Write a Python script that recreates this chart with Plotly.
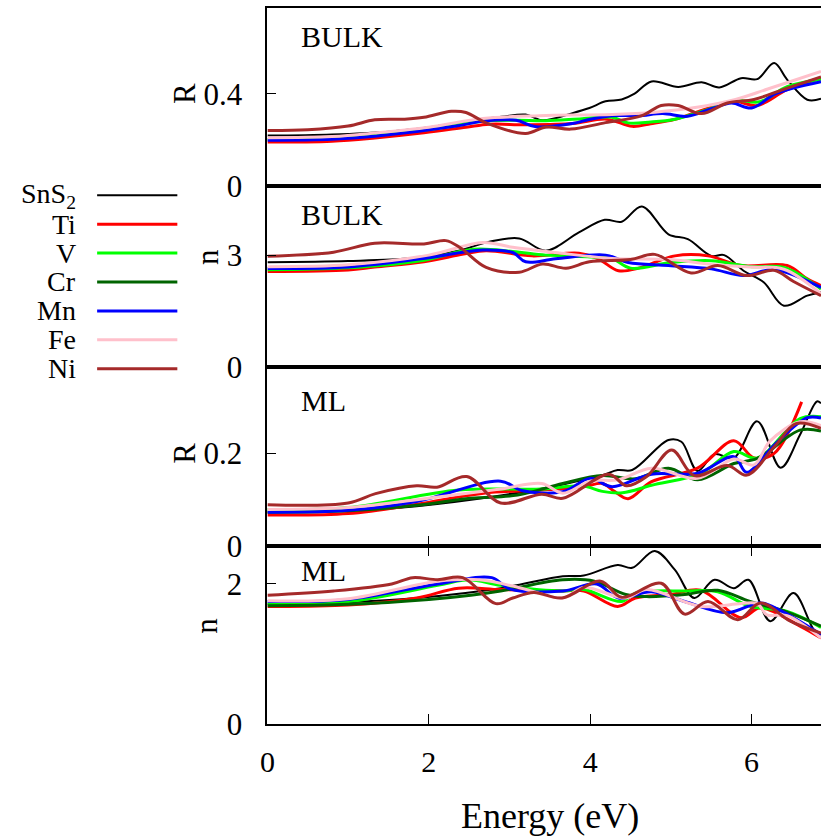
import plotly.graph_objects as go

SERIES = ["SnS<sub>2</sub>", "Ti", "V", "Cr", "Mn", "Fe", "Ni"]
COLORS = ["#000000", "#ff0000", "#00ff00", "#006400", "#0000ff", "#ffc0cb", "#a52a2a"]
WIDTHS = [2, 3, 3, 3, 3, 3, 3]

PANEL_LABELS = ["BULK", "BULK", "ML", "ML"]
Y_TITLES = ["R", "n", "R", "n"]
Y_TICKS = [[0, 0.4], [0, 3], [0, 0.2], [0, 2]]
Y_TICKTEXT = [["0", "0.4"], ["0", "3"], ["0", "0.2"], ["0", "2"]]
Y_RANGES = [[0, 0.77], [0, 4.85], [0, 0.387], [0, 2.54]]
X_TICKS = [0, 2, 4, 6]
X_RANGE = [0, 6.86]

# ---------------- BULK reflectivity R ----------------
bR_SnS2_E = [0, 0.8, 1.5, 2.0, 2.55, 2.9, 3.2, 3.41, 3.78, 3.99, 4.19, 4.39, 4.55, 4.76, 5.09, 5.38, 5.6, 5.87, 6.07, 6.28, 6.44, 6.69, 6.86]
bR_SnS2 = [0.219, 0.224, 0.236, 0.255, 0.285, 0.30, 0.31, 0.285, 0.316, 0.338, 0.367, 0.375, 0.40, 0.453, 0.429, 0.449, 0.427, 0.467, 0.463, 0.532, 0.461, 0.374, 0.378]
bR_Ti_E = [0, 0.8, 1.33, 1.94, 2.46, 2.75, 3.2, 3.78, 4.2, 4.52, 4.75, 5.05, 5.4, 5.78, 6.07, 6.44, 6.86]
bR_Ti = [0.191, 0.195, 0.209, 0.231, 0.255, 0.268, 0.266, 0.271, 0.29, 0.259, 0.27, 0.289, 0.33, 0.367, 0.349, 0.417, 0.467]
bR_V_E = [0, 0.8, 1.33, 2.0, 2.67, 3.08, 3.45, 3.9, 4.27, 4.47, 4.75, 5.05, 5.4, 5.8, 6.1, 6.44, 6.86]
bR_V = [0.202, 0.206, 0.223, 0.245, 0.281, 0.285, 0.283, 0.292, 0.298, 0.274, 0.278, 0.29, 0.325, 0.37, 0.365, 0.43, 0.462]
bR_Mn_E = [0, 0.8, 1.33, 2.34, 2.67, 3.08, 3.33, 3.78, 4.0, 4.27, 4.6, 4.9, 5.2, 5.5, 5.75, 6.0, 6.3, 6.86]
bR_Mn = [0.199, 0.203, 0.216, 0.26, 0.281, 0.285, 0.257, 0.271, 0.29, 0.305, 0.305, 0.314, 0.302, 0.335, 0.36, 0.338, 0.40, 0.452]
bR_Fe_E = [0, 0.8, 1.33, 2.0, 2.67, 3.37, 4.27, 4.8, 5.3, 5.8, 6.2, 6.86]
bR_Fe = [0.21, 0.215, 0.23, 0.255, 0.293, 0.305, 0.31, 0.32, 0.34, 0.375, 0.42, 0.496]
bR_Ni_E = [0, 0.5, 1.0, 1.33, 1.7, 1.94, 2.28, 2.46, 2.71, 3.2, 3.45, 3.76, 4.19, 4.64, 4.88, 5.09, 5.38, 5.7, 6.03, 6.44, 6.86]
bR_Ni = [0.241, 0.244, 0.26, 0.287, 0.29, 0.298, 0.324, 0.319, 0.274, 0.228, 0.256, 0.247, 0.275, 0.305, 0.349, 0.349, 0.314, 0.36, 0.375, 0.424, 0.472]

# ---------------- BULK refractive index n ----------------
bn_SnS2_E = [0, 1.0, 1.8, 2.37, 2.75, 3.12, 3.45, 3.86, 4.18, 4.39, 4.64, 4.97, 5.21, 5.5, 5.66, 5.9, 6.15, 6.4, 6.69, 6.86]
bn_SnS2 = [2.81, 2.84, 2.92, 3.12, 3.36, 3.45, 3.12, 3.61, 3.95, 3.9, 4.31, 3.56, 3.43, 2.98, 3.0, 2.58, 2.27, 1.64, 1.91, 2.0]
bn_Ti_E = [0, 1.0, 1.33, 1.94, 2.43, 2.71, 3.28, 3.86, 4.1, 4.35, 4.6, 5.05, 5.46, 5.87, 6.44, 6.69, 6.86]
bn_Ti = [2.56, 2.6, 2.68, 2.82, 3.03, 3.12, 2.98, 3.05, 2.9, 2.58, 2.65, 2.98, 2.98, 2.72, 2.72, 2.36, 2.18]
bn_V_E = [0, 1.0, 1.9, 2.55, 3.04, 3.45, 4.0, 4.27, 4.5, 5.0, 5.5, 6.0, 6.4, 6.86]
bn_V = [2.61, 2.66, 2.85, 3.16, 3.1, 3.0, 2.95, 2.91, 2.65, 2.8, 2.85, 2.69, 2.67, 2.09]
bn_Mn_E = [0, 1.0, 1.9, 2.4, 2.67, 3.04, 3.2, 3.57, 4.19, 4.47, 4.97, 5.5, 5.9, 6.28, 6.86]
bn_Mn = [2.64, 2.68, 2.9, 3.07, 3.14, 3.07, 2.82, 2.9, 3.0, 2.8, 2.72, 2.63, 2.45, 2.61, 2.13]
bn_Fe_E = [0, 1.0, 2.0, 2.67, 3.04, 3.57, 4.27, 5.0, 5.5, 6.0, 6.4, 6.86]
bn_Fe = [2.69, 2.74, 3.0, 3.34, 3.21, 3.07, 2.91, 2.88, 2.75, 2.68, 2.62, 1.96]
bn_Ni_E = [0, 0.82, 1.33, 1.94, 2.21, 2.39, 2.71, 3.12, 3.41, 3.7, 3.99, 4.5, 4.8, 5.25, 5.58, 5.94, 6.28, 6.52, 6.86]
bn_Ni = [2.97, 3.08, 3.32, 3.3, 3.39, 3.2, 2.67, 2.54, 2.76, 2.65, 2.82, 2.88, 3.02, 2.52, 2.72, 2.45, 2.59, 2.29, 1.91]

# ---------------- ML reflectivity R ----------------
mR_SnS2_E = [0, 1.0, 1.85, 2.89, 3.66, 4.15, 4.34, 4.52, 4.97, 5.13, 5.33, 5.54, 5.78, 6.07, 6.36, 6.6, 6.81, 6.86]
mR_SnS2 = [0.073, 0.076, 0.086, 0.109, 0.133, 0.153, 0.164, 0.164, 0.229, 0.225, 0.162, 0.198, 0.19, 0.269, 0.169, 0.24, 0.312, 0.308]
mR_Ti_E = [0, 1.0, 1.85, 2.68, 3.4, 3.92, 4.15, 4.3, 4.47, 4.76, 5.33, 5.78, 6.03, 6.28, 6.62]
mR_Ti = [0.067, 0.07, 0.09, 0.114, 0.121, 0.128, 0.135, 0.118, 0.102, 0.139, 0.168, 0.227, 0.19, 0.2, 0.311]
mR_V_E = [0, 1.0, 2.37, 3.4, 3.9, 4.15, 4.4, 4.76, 5.37, 5.78, 6.07, 6.6, 6.86]
mR_V = [0.079, 0.083, 0.121, 0.123, 0.13, 0.118, 0.115, 0.131, 0.157, 0.204, 0.19, 0.275, 0.279]
mR_Cr_E = [0, 1.0, 1.85, 2.52, 3.1, 3.66, 4.15, 4.56, 4.97, 5.33, 5.78, 6.07, 6.6, 6.86]
mR_Cr = [0.073, 0.076, 0.088, 0.103, 0.11, 0.135, 0.152, 0.145, 0.168, 0.143, 0.178, 0.189, 0.25, 0.248]
mR_Mn_E = [0, 1.0, 1.85, 2.89, 3.15, 3.66, 4.0, 4.27, 4.76, 5.33, 5.78, 5.94, 6.28, 6.69, 6.86]
mR_Mn = [0.073, 0.077, 0.096, 0.14, 0.12, 0.117, 0.146, 0.128, 0.155, 0.157, 0.193, 0.159, 0.218, 0.277, 0.276]
mR_Fe_E = [0, 1.0, 1.85, 2.89, 3.4, 3.66, 4.0, 4.35, 4.76, 5.33, 5.78, 6.03, 6.23, 6.6, 6.86]
mR_Fe = [0.079, 0.083, 0.1, 0.123, 0.135, 0.114, 0.14, 0.143, 0.168, 0.146, 0.188, 0.175, 0.227, 0.268, 0.26]
mR_Ni_E = [0, 1.0, 1.34, 1.85, 2.1, 2.47, 2.89, 3.4, 3.66, 4.23, 4.45, 4.7, 5.01, 5.29, 5.7, 5.94, 6.28, 6.55, 6.86]
mR_Ni = [0.089, 0.093, 0.113, 0.13, 0.127, 0.15, 0.093, 0.112, 0.103, 0.155, 0.13, 0.15, 0.207, 0.152, 0.174, 0.153, 0.214, 0.264, 0.254]

# ---------------- ML refractive index n ----------------
mn_SnS2_E = [0, 1.0, 1.85, 2.89, 3.66, 3.92, 4.34, 4.52, 4.8, 5.05, 5.29, 5.54, 5.78, 5.96, 6.23, 6.52, 6.77, 6.86]
mn_SnS2 = [1.716, 1.74, 1.8, 1.94, 2.11, 2.12, 2.27, 2.23, 2.47, 2.2, 1.80, 2.06, 1.94, 2.06, 1.47, 1.87, 1.35, 1.28]
mn_Ti_E = [0, 1.0, 1.85, 2.37, 2.89, 3.66, 3.92, 4.34, 4.56, 5.0, 5.37, 5.87, 6.11, 6.6, 6.86]
mn_Ti = [1.68, 1.7, 1.8, 1.94, 1.92, 1.9, 1.9, 1.68, 1.80, 1.85, 1.91, 1.52, 1.66, 1.40, 1.23]
mn_V_E = [0, 1.0, 2.11, 2.5, 2.89, 3.66, 3.92, 4.39, 4.56, 5.17, 5.58, 5.98, 6.44, 6.86]
mn_V = [1.72, 1.75, 1.98, 2.06, 1.98, 1.9, 1.92, 1.75, 1.87, 1.9, 1.89, 1.68, 1.61, 1.38]
mn_Cr_E = [0, 1.0, 2.0, 2.52, 2.89, 3.66, 4.05, 4.44, 4.7, 5.17, 5.58, 5.98, 6.44, 6.86]
mn_Cr = [1.69, 1.71, 1.78, 1.84, 1.9, 2.06, 2.04, 1.85, 1.82, 1.85, 1.91, 1.75, 1.6, 1.40]
mn_Mn_E = [0, 1.0, 2.11, 2.78, 3.0, 3.66, 4.08, 4.35, 4.76, 5.17, 5.7, 6.11, 6.36, 6.86]
mn_Mn = [1.75, 1.78, 2.0, 2.09, 1.93, 1.9, 2.0, 1.8, 1.89, 1.75, 1.59, 1.73, 1.62, 1.28]
mn_Fe_E = [0, 1.0, 2.11, 2.63, 3.15, 3.66, 3.92, 4.44, 4.7, 5.37, 5.87, 6.07, 6.19, 6.44, 6.86]
mn_Fe = [1.76, 1.79, 2.04, 2.06, 1.94, 1.8, 1.95, 1.8, 1.92, 1.68, 1.72, 1.72, 1.56, 1.55, 1.23]
mn_Ni_E = [0, 0.82, 1.54, 1.8, 2.11, 2.42, 2.83, 3.04, 3.3, 3.65, 4.13, 4.39, 4.88, 5.17, 5.46, 5.83, 6.11, 6.48, 6.86]
mn_Ni = [1.84, 1.9, 2.0, 2.09, 2.06, 2.09, 1.72, 1.8, 1.88, 1.8, 2.04, 1.81, 2.01, 1.57, 1.75, 1.49, 1.73, 1.47, 1.30]

PANELS = [
    [(0, bR_SnS2_E, bR_SnS2), (1, bR_Ti_E, bR_Ti), (2, bR_V_E, bR_V),
     (4, bR_Mn_E, bR_Mn), (5, bR_Fe_E, bR_Fe), (6, bR_Ni_E, bR_Ni)],
    [(0, bn_SnS2_E, bn_SnS2), (1, bn_Ti_E, bn_Ti), (2, bn_V_E, bn_V),
     (4, bn_Mn_E, bn_Mn), (5, bn_Fe_E, bn_Fe), (6, bn_Ni_E, bn_Ni)],
    [(0, mR_SnS2_E, mR_SnS2), (1, mR_Ti_E, mR_Ti), (2, mR_V_E, mR_V), (3, mR_Cr_E, mR_Cr),
     (4, mR_Mn_E, mR_Mn), (5, mR_Fe_E, mR_Fe), (6, mR_Ni_E, mR_Ni)],
    [(0, mn_SnS2_E, mn_SnS2), (1, mn_Ti_E, mn_Ti), (2, mn_V_E, mn_V), (3, mn_Cr_E, mn_Cr),
     (4, mn_Mn_E, mn_Mn), (5, mn_Fe_E, mn_Fe), (6, mn_Ni_E, mn_Ni)],
]

W = 821
H_REF = 839           # target picture height
H_FIG = 854           # figure height (picture was observed to be compressed vertically)
FONT = "Liberation Serif"


def px_x(v):
    return v / W


def px_y(v):
    return 1 - v / H_REF


X_LEFT = px_x(262)
PANEL_PX = [(8, 187), (187, 368), (368, 548), (548, 727)]

fig = go.Figure()
for p, series in enumerate(PANELS):
    ax = "" if p == 0 else str(p + 1)
    for idx, ex, ey in series:
        fig.add_trace(go.Scatter(
            x=ex, y=ey, mode="lines", name=SERIES[idx],
            line=dict(color=COLORS[idx], width=WIDTHS[idx], shape="spline", smoothing=1.0),
            xaxis="x" + ax, yaxis="y" + ax, showlegend=False, hoverinfo="skip"))

layout = dict(width=W, height=H_FIG, margin=dict(l=0, r=0, t=0, b=0),
              paper_bgcolor="white", plot_bgcolor="white",
              font=dict(family=FONT, color="black", size=28), showlegend=False)
annotations = []
shapes = []
for p in range(4):
    ax = "" if p == 0 else str(p + 1)
    top, bot = PANEL_PX[p]
    dom = [px_y(bot), px_y(top)]
    xa = dict(domain=[X_LEFT, 1.0], range=X_RANGE, showline=True, linecolor="black",
              linewidth=2, mirror=True, showgrid=False, zeroline=False,
              anchor="y" + ax, tickvals=X_TICKS, ticklen=10, tickwidth=1,
              tickcolor="black", ticks="", showticklabels=False)
    if p == 2:
        xa.update(ticks="inside")
    if p == 3:
        xa.update(ticks="inside", mirror="ticks", showticklabels=True,
                  ticktext=[str(v) for v in X_TICKS], ticklabelstandoff=10,
                  tickfont=dict(size=30, family=FONT))
    ya = dict(domain=dom, range=Y_RANGES[p], showline=True, linecolor="black",
              linewidth=2, showgrid=False, zeroline=False, anchor="x" + ax,
              tickvals=Y_TICKS[p], ticktext=Y_TICKTEXT[p], ticks="inside",
              ticklen=9, tickwidth=1, tickcolor="black", ticklabelstandoff=17,
              tickfont=dict(size=31, family=FONT))
    layout["xaxis" + ax] = xa
    layout["yaxis" + ax] = ya
    lab_y = [37, 215, 402, 573][p]
    annotations.append(dict(text=PANEL_LABELS[p], x=px_x(294), y=px_y(lab_y), xref="paper",
                            yref="paper", xanchor="left", yanchor="middle", showarrow=False,
                            font=dict(size=30, family=FONT)))
    ty_x = [178, 201, 178, 201][p]
    ty_y = [94, 258, 455, 628][p]
    annotations.append(dict(text=Y_TITLES[p], x=px_x(ty_x), y=px_y(ty_y), xref="paper",
                            yref="paper", xanchor="center", yanchor="middle", showarrow=False,
                            textangle=-90, font=dict(size=31, family=FONT)))

annotations.append(dict(text="Energy (eV)", x=px_x(547), y=px_y(819),
                        xref="paper", yref="paper", xanchor="center", yanchor="middle",
                        showarrow=False, font=dict(size=36, family=FONT)))

LEG_Y = [196, 225, 254, 283, 312, 341, 370]
for i, name in enumerate(SERIES):
    yy = px_y(LEG_Y[i])
    annotations.append(dict(text=name, x=px_x(71), y=yy, xref="paper", yref="paper",
                            xanchor="right", yanchor="middle", showarrow=False,
                            font=dict(size=28, family=FONT)))
    shapes.append(dict(type="line", xref="paper", yref="paper", x0=px_x(90), x1=px_x(171),
                       y0=yy, y1=yy, line=dict(color=COLORS[i], width=WIDTHS[i])))

layout["annotations"] = annotations
layout["shapes"] = shapes
fig.update_layout(**layout)
fig.write_html("out.html", config={"displayModeBar": False},
               post_script="document.body.style.margin='0';document.body.style.overflow='hidden';")
